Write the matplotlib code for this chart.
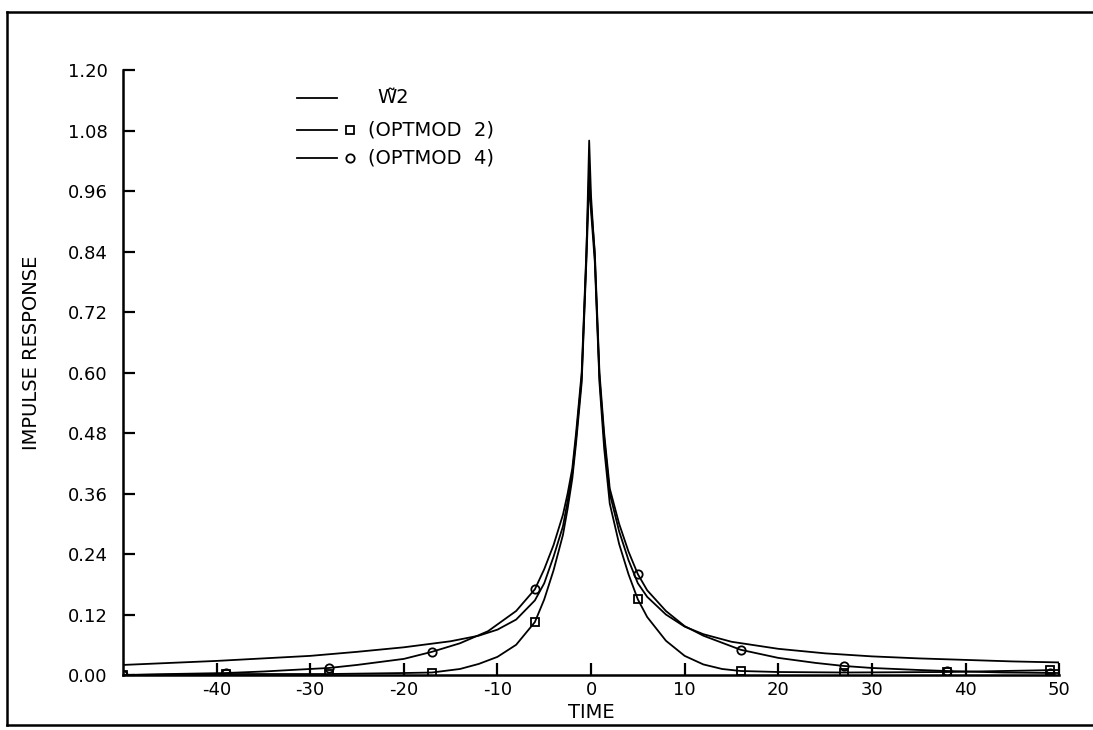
import matplotlib.pyplot as plt
from matplotlib.lines import Line2D

plt.rcParams['font.family'] = ['DejaVu Sans']

# curve: W~2 (solid, no markers)
t_w2 = [-50, -45, -40, -35, -30, -25, -20, -15, -12, -10, -8, -6, -5, -4, -3, -2.5,
        -2, -1.6, -1, -0.5, -0.2, 0, 0.4, 0.9, 1.4, 2, 3, 4, 5, 6, 8, 10, 12, 15,
        20, 25, 30, 35, 40, 45, 50]
y_w2 = [0.020, 0.024, 0.028, 0.033, 0.038, 0.046, 0.055, 0.067, 0.078, 0.090,
        0.110, 0.148, 0.182, 0.235, 0.295, 0.345, 0.400, 0.470, 0.590, 0.830,
        1.060, 0.950, 0.830, 0.590, 0.470, 0.360, 0.285, 0.228, 0.182, 0.155,
        0.120, 0.096, 0.081, 0.066, 0.052, 0.043, 0.037, 0.033, 0.030, 0.027,
        0.025]

# OPTMOD 4 (circles)
t_m4 = [-50, -45, -39, -35, -28, -25, -20, -17, -14, -11, -8, -6, -5, -4, -3, -2.5,
        -2, -1.6, -1, -0.5, -0.2, 0, 0.4, 0.9, 1.4, 2, 3, 4, 5, 6, 8, 10, 12, 14,
        16, 20, 24, 27, 30, 35, 38, 44, 50]
y_m4 = [0.000, 0.002, 0.004, 0.007, 0.014, 0.020, 0.032, 0.046, 0.063, 0.087,
        0.127, 0.170, 0.210, 0.258, 0.318, 0.360, 0.410, 0.480, 0.600, 0.840,
        1.000, 0.930, 0.840, 0.600, 0.480, 0.370, 0.300, 0.245, 0.200, 0.168,
        0.127, 0.097, 0.078, 0.064, 0.050, 0.034, 0.024, 0.018, 0.014, 0.010,
        0.008, 0.005, 0.004]
mk_t4 = [-50, -39, -28, -17, -6, 5, 16, 27, 38, 49]
mk_y4 = [0.000, 0.004, 0.014, 0.046, 0.170, 0.200, 0.050, 0.018, 0.008, 0.004]

# OPTMOD 2 (squares)
t_m2 = [-50, -39, -28, -20, -17, -14, -12, -10, -8, -6, -5, -4, -3, -2.5, -2, -1.6,
        -1, -0.5, -0.2, 0, 0.4, 0.9, 1.4, 2, 3, 4, 5, 6, 8, 10, 12, 14, 16, 20,
        27, 38, 50]
y_m2 = [0.000, 0.002, 0.002, 0.004, 0.005, 0.012, 0.022, 0.036, 0.060, 0.105,
        0.150, 0.208, 0.278, 0.330, 0.390, 0.460, 0.580, 0.820, 0.980, 0.920,
        0.820, 0.580, 0.450, 0.340, 0.260, 0.200, 0.150, 0.115, 0.068, 0.038,
        0.021, 0.012, 0.008, 0.006, 0.005, 0.006, 0.010]
mk_t2 = [-50, -39, -28, -17, -6, 5, 16, 27, 38, 49]
mk_y2 = [0.000, 0.002, 0.002, 0.005, 0.105, 0.150, 0.008, 0.005, 0.006, 0.010]

xticks = [-40, -30, -20, -10, 0, 10, 20, 30, 40, 50]
yticks = [0.00, 0.12, 0.24, 0.36, 0.48, 0.60, 0.72, 0.84, 0.96, 1.08, 1.20]

fig = plt.figure(figsize=(10.93, 7.30), dpi=100)
ax = fig.add_axes([0.1125, 0.0753, 0.8565, 0.8288])

lw = 1.3
ax.plot(t_w2, y_w2, color='black', lw=lw)
ax.plot(t_m2, y_m2, color='black', lw=lw)
ax.plot(t_m4, y_m4, color='black', lw=lw)
ax.plot(mk_t2, mk_y2, ls='none', marker='s', ms=6, mfc='none', mec='black', mew=1.3)
ax.plot(mk_t4, mk_y4, ls='none', marker='o', ms=6, mfc='none', mec='black', mew=1.3)

ax.set_xlim(-50, 50)
ax.set_ylim(0, 1.2)
ax.set_xticks(xticks)
ax.set_xticklabels([str(v) for v in xticks])
ax.set_yticks(yticks)
ax.set_yticklabels([f'{v:.2f}' for v in yticks])
for s in ['top', 'right']:
    ax.spines[s].set_visible(False)
for s in ['left', 'bottom']:
    ax.spines[s].set_linewidth(1.8)
ax.tick_params(axis='both', direction='in', length=8.5, width=1.6, labelsize=13)
ax.tick_params(axis='y', pad=11)
ax.tick_params(axis='x', pad=4)

ax.set_xlabel('TIME', fontsize=14)
ax.xaxis.set_label_coords(0.5, -0.046)
ax.set_ylabel('IMPULSE RESPONSE', fontsize=14)
ax.yaxis.set_label_coords(-0.088, 0.532)

# legend drawn by hand, as in the plotter output
leg_rows = [0.954, 0.901, 0.855]
leg_text = ['W\u03032', '(OPTMOD  2)', '(OPTMOD  4)']
leg_marker = [None, 's', 'o']
for ry, txt, mk in zip(leg_rows, leg_text, leg_marker):
    ax.plot([0.186, 0.229], [ry, ry], transform=ax.transAxes, color='black', lw=lw)
    if mk:
        ax.plot([0.2425], [ry], transform=ax.transAxes, marker=mk, ms=6,
                mfc='none', mec='black', mew=1.3)
    tx = 0.272 if mk is None else 0.262
    ax.text(tx, ry, txt, transform=ax.transAxes, fontsize=14, va='center', ha='left')

# page border from the scan
fig.add_artist(Line2D([0.0064, 1.0], [0.9836, 0.9836], color='black', lw=1.8))
fig.add_artist(Line2D([0.0064, 0.0064], [0.0068, 0.9836], color='black', lw=1.8))
fig.add_artist(Line2D([0.0064, 1.0], [0.0068, 0.0068], color='black', lw=1.8))

fig.savefig('out.png', dpi=100)
